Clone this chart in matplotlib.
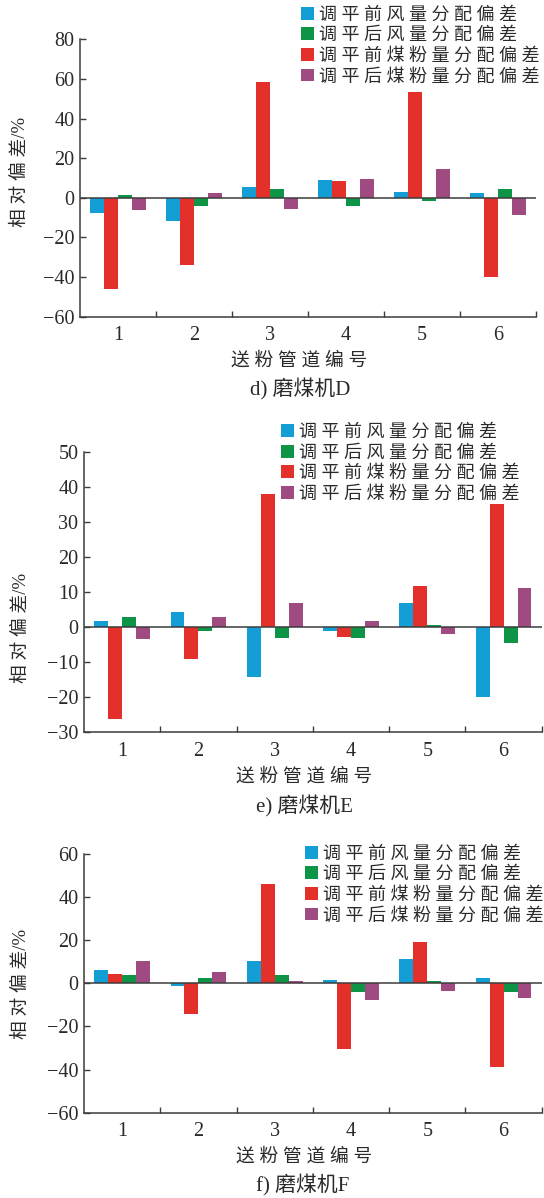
import numpy as np
import matplotlib
matplotlib.use("Agg")
import matplotlib.pyplot as plt
from matplotlib.ticker import FixedLocator

# 送粉管道编号
pipes = [1, 2, 3, 4, 5, 6]

# 磨煤机D
d_air_before = [-7.5, -11.7, 5.5, 8.8, 3.0, 2.2]
d_air_after = [1.5, -4.2, 4.5, -4.2, -1.5, 4.2]
d_coal_before = [-46.0, -33.7, 58.3, 8.3, 53.3, -40.2]
d_coal_after = [-6.2, 2.2, -5.5, 9.5, 14.7, -8.7]

# 磨煤机E
e_air_before = [1.7, 4.2, -14.2, -1.2, 6.9, -20.0]
e_air_after = [3.0, -1.0, -3.0, -3.2, 0.7, -4.4]
e_coal_before = [-26.1, -9.0, 37.8, -2.8, 11.8, 35.0]
e_coal_after = [-3.4, 2.9, 7.0, 1.7, -1.9, 11.1]

# 磨煤机F
f_air_before = [6.0, -1.5, 10.2, 1.4, 11.0, 2.5]
f_air_after = [3.7, 2.3, 4.0, -3.9, 1.1, -4.3]
f_coal_before = [4.3, -14.4, 45.9, -30.6, 19.0, -38.9]
f_coal_after = [10.2, 5.1, 0.8, -8.0, -3.4, -7.0]

series_names = ["调平前风量分配偏差", "调平后风量分配偏差",
                "调平前煤粉量分配偏差", "调平后煤粉量分配偏差"]
colors = ["#139fd6", "#0e9446", "#e3302a", "#a04a82"]

W, H = 544, 1198
CJK = ["Liberation Serif", "Noto Sans CJK SC", "DejaVu Sans"]
TXT = "#2a2a2a"
AX = "#3c3c3c"


def spaced(s):
    return " ".join(s)


def px_box(left, right, top, bottom):
    return [left / W, 1 - bottom / H, (right - left) / W, (bottom - top) / H]


def draw_panel(fig, box, data, ylim, ystep, leg_xy, ylab_xy, xlab_xy, cap_xy, caption):
    ax = fig.add_axes(px_box(*box))
    x = np.array(pipes, dtype=float)
    w = 0.183
    # bar order inside a group: blue, red, green, purple
    order = [0, 2, 1, 3]
    handles = [None] * 4
    for k, idx in enumerate(order):
        b = ax.bar(x + (k - 1.5) * w, data[idx], width=w, color=colors[idx],
                   edgecolor="none", zorder=2)
        handles[idx] = b
    ax.axhline(0, color=AX, lw=1.1, zorder=3)

    ax.set_xlim(0.5, 6.5)
    ax.set_ylim(*ylim)
    ax.spines["top"].set_visible(False)
    ax.spines["right"].set_visible(False)
    for s in ("left", "bottom"):
        ax.spines[s].set_color(AX)
        ax.spines[s].set_linewidth(1.1)

    ax.set_yticks(np.arange(ylim[0], ylim[1] + 0.1, ystep))
    ax.tick_params(axis="y", direction="in", length=4.5, width=1.0, color=AX,
                   labelsize=14.5, labelcolor=TXT, pad=4)
    ax.set_xticks(pipes)
    ax.xaxis.set_minor_locator(FixedLocator([1.5, 2.5, 3.5, 4.5, 5.5, 6.5]))
    ax.tick_params(axis="x", which="major", length=0, labelsize=14.5,
                   labelcolor=TXT, pad=7)
    ax.tick_params(axis="x", which="minor", direction="in", length=4.5,
                   width=1.0, color=AX)
    for lab in ax.get_xticklabels() + ax.get_yticklabels():
        lab.set_fontfamily("Liberation Serif")

    leg = ax.legend(handles, [spaced(n) for n in series_names],
                    loc="upper left",
                    bbox_to_anchor=(leg_xy[0] / W, 1 - leg_xy[1] / H),
                    bbox_transform=fig.transFigure, frameon=False,
                    prop={"family": CJK, "size": 13},
                    handlelength=0.72, handleheight=0.72, handletextpad=0.3,
                    labelspacing=0.2, borderpad=0, borderaxespad=0)
    for t in leg.get_texts():
        t.set_color(TXT)

    fig.text(ylab_xy[0] / W, 1 - ylab_xy[1] / H, "相 对 偏 差/%", rotation=90,
             ha="center", va="center", family=CJK, fontsize=13.5, color=TXT)
    fig.text(xlab_xy[0] / W, 1 - xlab_xy[1] / H, spaced("送粉管道编号"),
             ha="center", va="center", family=CJK, fontsize=13.5, color=TXT)
    fig.text(cap_xy[0] / W, 1 - cap_xy[1] / H, caption,
             ha="center", va="center", family=CJK, fontsize=15, color=TXT)
    return ax


fig = plt.figure(figsize=(W / 100, H / 100), dpi=100)
fig.patch.set_facecolor("white")

draw_panel(fig, (80, 536, 39.3, 316.7),
           [d_air_before, d_air_after, d_coal_before, d_coal_after],
           (-60, 80), 20, (301, 6.5), (20, 172), (299, 361), (300, 389),
           "d) 磨煤机D")
draw_panel(fig, (84, 541.7, 451.7, 732.3),
           [e_air_before, e_air_after, e_coal_before, e_coal_after],
           (-30, 50), 10, (280.5, 424), (21, 628), (304, 777), (304, 806),
           "e) 磨煤机E")
draw_panel(fig, (84, 541.7, 853.7, 1112.7),
           [f_air_before, f_air_after, f_coal_before, f_coal_after],
           (-60, 60), 20, (305, 845.5), (21, 984), (304, 1157), (303, 1185),
           "f) 磨煤机F")

fig.savefig("out.png", dpi=100, facecolor="white")
